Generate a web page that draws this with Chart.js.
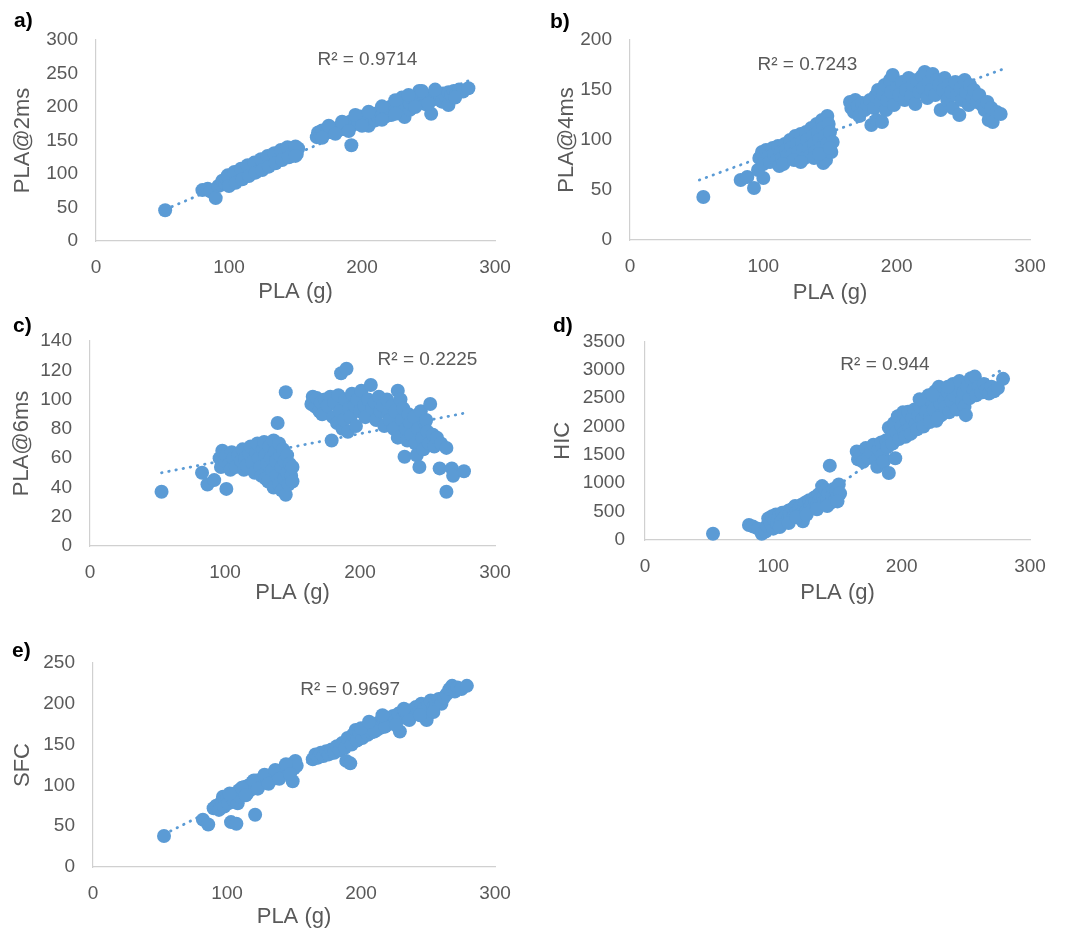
<!DOCTYPE html>
<html>
<head>
<meta charset="utf-8">
<script src="https://cdn.jsdelivr.net/npm/chart.js@4.4.0/dist/chart.umd.min.js"></script>
<style>
    body { margin: 0; background: #fff; }
    #page { position: relative; width: 1067px; height: 928px; background: #fff; }
    #page canvas { position: absolute; }
</style>
</head>
<body>
<div id="page">
    <canvas id="chartA" width="530" height="310" style="left:0px;top:0px"></canvas>
    <canvas id="chartB" width="537" height="310" style="left:530px;top:0px"></canvas>
    <canvas id="chartC" width="530" height="300" style="left:0px;top:310px"></canvas>
    <canvas id="chartD" width="537" height="300" style="left:530px;top:310px"></canvas>
    <canvas id="chartE" width="530" height="318" style="left:0px;top:610px"></canvas>
</div>
<script>
// ---- data: [PLA (g), value] ----
const pla2ms = [
    [52,46],[80,76],[84,78],[86,74],[90,64],[92,82],
    [94,84],[95,90],[97,86],[98,93],[100,88],[101,95],[103,92],[104,98],[106,94],[107,100],[109,97],[110,104],
    [112,100],[113,107],[115,103],[116,110],[118,106],[119,113],[121,109],[122,116],[124,112],[125,118],[127,115],
    [128,121],[130,117],[131,123],[133,120],[134,126],[136,122],[137,129],[139,125],[140,132],[142,128],[143,135],
    [145,130],[146,137],[147,127],[148,133],[149,139],[150,135],[151,130],[152,138],
    [99,98],[104,103],[109,108],[114,113],[119,117],[124,122],[129,127],[134,131],[139,136],[144,140],[150,141],
    [100,82],[105,87],[110,92],[115,97],[120,102],[125,106],[130,111],[135,116],[140,121],[145,125],[150,127],
    [166,155],[167,162],[169,158],[170,165],[172,160],[174,163],[176,167],[178,162],[180,168],[182,165],[184,171],
    [186,167],[188,174],[190,170],[191,178],[192,143],[193,173],[195,182],[197,177],[199,186],[200,180],[202,184],
    [204,178],[205,172],[206,186],[208,182],[210,190],[210,180],[212,185],[214,193],[215,188],[217,197],[218,186],
    [219,192],[221,200],[222,195],[222,188],[224,203],[226,198],[228,206],[229,200],[230,214],[231,208],[232,185],
    [233,203],[235,210],[236,196],[236,205],[238,212],[240,207],[242,215],[243,224],[243,210],[245,218],[247,212],
    [248,204],[249,216],[251,210],[252,190],[253,217],[255,222],[255,212],[257,219],[259,214],[260,208],[261,220],
    [263,216],[265,203],[265,222],[267,218],[269,224],[271,220],[273,226],[276,223],[280,228],
    [175,172],[185,178],[195,188],[205,193],[215,201],[225,210],[235,218],[245,224],[255,226],
    [170,154],[180,160],[190,164],[200,172],[215,181],[225,190],[240,200],[250,205],[270,214]
];
const pla4ms = [
    [55,43],[83,60],[88,63],[93,52],[100,62],
    [96,70],[97,82],[99,88],[100,76],[102,90],[104,84],[105,78],[107,92],[108,86],[110,80],[111,94],[112,74],
    [113,88],[114,82],[116,96],[117,90],[118,84],[120,100],[121,92],[122,86],[124,104],[125,96],[126,88],[128,106],
    [129,98],[130,90],[131,82],[132,108],[133,100],[134,92],[135,84],[136,112],[137,104],[138,96],[139,88],[140,116],
    [141,108],[142,100],[143,92],[144,120],[145,112],[145,77],[146,104],[147,80],[148,124],[148,96],[149,116],
    [150,108],[151,88],[152,98],[115,76],[123,80],[128,78],[138,82],[142,86],[150,92],
    [165,138],[166,132],[168,128],[169,140],[171,134],[172,124],[174,137],[176,130],[178,136],[180,140],[181,115],
    [183,132],[184,144],[185,120],[186,150],[188,138],[189,118],[190,146],[191,155],[192,130],[193,140],[195,160],
    [196,148],[197,165],[198,135],[200,152],[202,145],[204,158],[206,140],[207,150],[209,162],[211,144],[212,155],
    [214,136],[215,160],[217,148],[219,164],[220,152],[221,168],[223,142],[224,158],[226,150],[227,166],[229,145],
    [230,160],[232,155],[233,130],[235,150],[236,162],[238,140],[239,155],[241,148],[242,132],[244,158],[245,145],
    [247,125],[248,152],[249,140],[251,160],[252,148],[254,135],[255,155],[257,142],[258,150],[260,138],[262,145],
    [264,135],[266,130],[268,138],[269,120],[271,132],[272,118],[275,128],[278,126]
];
const pla6ms = [
    [53,37],[83,50],[87,42],[92,45],[101,39],
    [96,60],[97,54],[98,65],[100,58],[101,62],[103,56],[104,52],[105,64],[106,60],[108,54],[110,62],[112,58],
    [113,66],[114,52],[115,60],[116,55],[118,63],[119,68],[120,57],[122,50],[123,64],[124,70],[125,60],[126,54],
    [127,48],[128,66],[129,71],[130,62],[130,46],[131,56],[132,44],[133,68],[134,60],[135,52],[136,72],[136,40],
    [137,64],[138,48],[138,58],[139,84],[140,70],[140,42],[141,62],[142,54],[142,38],[143,66],[144,46],[144,58],
    [145,35],[145,105],[146,50],[146,62],[147,42],[148,56],[149,48],[150,54],[150,44],
    [164,97],[165,102],[167,95],[168,101],[170,92],[171,98],[172,90],[174,100],[176,96],[178,102],[179,72],[180,88],
    [181,98],[183,84],[184,103],[185,92],[186,118],[187,80],[188,86],[189,100],[190,121],[191,78],[192,94],[193,88],
    [194,104],[196,96],[197,82],[198,100],[200,92],[201,106],[203,96],[204,88],[206,100],[208,110],[209,94],[211,98],
    [212,86],[214,102],[215,92],[217,96],[218,82],[220,100],[221,90],[222,86],[224,96],[225,80],[226,92],[228,106],
    [228,74],[230,100],[231,86],[232,94],[233,61],[234,80],[235,72],[236,90],[237,84],[238,76],[240,88],[241,70],
    [242,62],[243,80],[244,54],[245,92],[246,74],[247,66],[248,84],[249,86],[250,78],[251,70],[252,97],[254,76],
    [255,68],[257,74],[259,53],[260,70],[264,67],[264,37],[268,53],[269,48],[277,51]
];
const hic = [
    [53,110],[81,265],[84,240],[88,200],[91,110],[94,150],
    [95,250],[96,380],[98,300],[99,420],[100,200],[101,350],[102,450],[103,280],[104,400],[106,320],[107,480],
    [108,380],[110,430],[111,330],[112,520],[113,460],[115,550],[116,420],[117,600],[118,500],[120,560],[121,460],
    [122,620],[123,330],[124,580],[125,660],[126,520],[128,700],[129,600],[130,640],[131,560],[132,750],[133,680],
    [134,620],[135,800],[136,700],[137,650],[138,950],[139,760],[140,680],[141,880],[142,720],[143,820],[144,1310],
    [145,660],[146,780],[147,900],[148,700],[149,860],[150,760],[151,980],[152,820],
    [105,230],[112,300],[118,400],[126,450],[134,540],[142,600],[150,680],
    [165,1560],[166,1420],[168,1500],[170,1380],[172,1620],[174,1450],[176,1550],[178,1680],[180,1400],[181,1290],
    [182,1600],[184,1720],[185,1500],[186,1380],[188,1760],[189,1640],[190,1180],[190,1980],[192,1820],[193,1700],
    [194,2060],[195,1440],[196,1900],[197,2180],[198,1780],[200,2000],[201,2250],[202,1900],[204,2100],[205,2260],
    [206,1960],[208,2150],[210,2300],[211,2050],[213,2200],[214,2350],[216,2120],[218,2400],[219,2250],[221,2550],
    [222,2150],[223,2450],[225,2300],[226,2620],[227,2100],[229,2700],[230,2400],[231,2200],[233,2500],[234,2350],
    [236,2600],[237,2250],[239,2450],[240,2750],[241,2550],[243,2300],[244,2650],[245,2800],[247,2450],[248,2600],
    [249,2350],[250,2200],[251,2700],[253,2500],[254,2850],[256,2650],[257,2880],[258,2550],[260,2700],[262,2600],
    [264,2750],[266,2650],[268,2580],[270,2700],[272,2620],[275,2680],[279,2840],
    [203,1820],[207,1870],[212,1950],[217,2000],[222,2080],[228,2150],[214,2480],[224,2560],[236,2700]
];
const sfc = [
    [53,38],[82,58],[86,52],[103,55],[107,53],[121,64],
    [90,72],[92,75],[94,70],[96,80],[97,86],[98,74],[100,84],[101,78],[103,86],[105,82],[106,90],[108,78],[109,94],
    [110,86],[112,92],[113,98],[115,90],[116,100],[118,95],[119,104],[121,98],[122,106],[124,101],[126,108],[127,103],
    [129,110],[130,105],[132,112],[134,108],[135,115],[137,110],[139,118],[140,113],[142,120],[143,116],[145,122],
    [146,118],[148,126],[149,105],[150,121],[151,130],[152,124],
    [102,90],[111,97],[120,106],[128,113],[136,119],[144,126],[114,88],[123,96],[131,102],[139,108],[147,114],
    [164,132],[166,138],[168,134],[170,140],[172,136],[174,142],[176,138],[178,144],[180,140],[182,148],[184,143],
    [186,152],[188,146],[189,130],[190,158],[192,127],[193,150],[194,162],[196,168],[197,155],[199,164],[201,158],
    [203,168],[205,162],[207,172],[208,165],[210,175],[212,168],[214,178],[215,171],[217,180],[219,174],[221,182],
    [222,176],[224,185],[226,180],[228,188],[229,166],[231,183],[233,190],[235,185],[237,192],[239,188],[241,196],
    [243,190],[245,200],[247,194],[249,180],[250,198],[252,204],[254,196],[256,202],[258,206],[260,200],[262,208],
    [264,212],[266,218],[268,222],[270,215],[272,220],[275,218],[279,222],
    [200,170],[210,166],[218,172],[226,174],[236,180],[244,186],[254,190],[206,178],[216,186],[232,194]
];

// linear trendline ends, as drawn in the figure
const trend2ms = [[52,47],[281,240]];
const trend4ms = [[52,60],[280,171]];
const trend6ms = [[53,50],[279,91]];
const trendHic = [[53,-596],[279,3020]];
const trendSfc = [[53,40],[279,226]];

const panelLetters = ["a)", "b)", "c)", "d)", "e)"];
const yTitles = ["PLA@2ms", "PLA@4ms", "PLA@6ms", "HIC", "SFC"];
const r2Labels = ["R² = 0.9714", "R² = 0.7243", "R² = 0.2225", "R² = 0.944", "R² = 0.9697"];
const yMax = [300, 200, 140, 3500, 250];
const yStep = [50, 50, 20, 500, 50];
const xTitle = "PLA (g)";
const xMax = 300;
const xStep = 100;

const BLUE = "#5B9BD5";
const GREY = "#595959";
const AXIS = "#D0D0D0";
const FONT = "'Liberation Sans', Arial, sans-serif";

// text drawn on top: panel letter and R² note
const panelText = {
    id: "panelText",
    afterDraw(chart, args, opts) {
        const ctx = chart.ctx;
        ctx.save();
        ctx.fillStyle = "#000";
        ctx.font = "bold 21px " + FONT;
        ctx.textAlign = "left";
        ctx.textBaseline = "middle";
        ctx.fillText(opts.letter, opts.letterAt[0], opts.letterAt[1]);

        ctx.fillStyle = GREY;
        ctx.font = "19px " + FONT;
        ctx.textAlign = "center";
        ctx.fillText(opts.r2,
            chart.scales.x.getPixelForValue(opts.r2At[0]),
            chart.scales.y.getPixelForValue(opts.r2At[1]));
        ctx.restore();
    }
};

function toXY(list) {
    return list.map(p => ({x: p[0], y: p[1]}));
}

function createScatter(canvasId, i, points, trend, p) {
    const canvas = document.getElementById(canvasId);
    const w = canvas.width, h = canvas.height;
    const tickFont = {family: FONT, size: 19};
    const titleFont = {family: FONT, size: 22, lineHeight: 1};

    return new Chart(canvas, {
        type: "scatter",
        data: {
            datasets: [{
                data: toXY(points),
                backgroundColor: BLUE,
                borderWidth: 0,
                pointRadius: 7,
                pointHoverRadius: 7,
                clip: false,
                order: 0
            }, {
                data: toXY(trend),
                showLine: true,
                borderColor: BLUE,
                borderWidth: 2.8,
                borderCapStyle: "round",
                borderDash: [0.5, 6.8],
                pointRadius: 0,
                order: 1
            }]
        },
        options: {
            responsive: false,
            animation: false,
            events: [],
            layout: {
                padding: {left: 0, top: p.area[1], right: w - p.area[2], bottom: 0}
            },
            plugins: {
                legend: {display: false},
                tooltip: {enabled: false},
                panelText: {
                    letter: panelLetters[i],
                    letterAt: p.letterAt,
                    r2: r2Labels[i],
                    r2At: p.r2At
                }
            },
            scales: {
                x: {
                    type: "linear",
                    min: 0,
                    max: xMax,
                    ticks: {stepSize: xStep, padding: 15, color: GREY, font: tickFont},
                    grid: {display: false, drawTicks: false},
                    border: {color: AXIS, width: 1.2},
                    title: {display: true, text: xTitle, color: GREY, font: titleFont, padding: {top: 0, bottom: p.xTitlePad}},
                    afterFit: (scale) => { scale.height = h - p.area[3]; }
                },
                y: {
                    type: "linear",
                    min: 0,
                    max: yMax[i],
                    ticks: {stepSize: yStep[i], padding: p.yTickPad, color: GREY, font: tickFont,
                            format: {useGrouping: false}},
                    grid: {display: false, drawTicks: false},
                    border: {color: AXIS, width: 1.2},
                    title: {display: true, text: yTitles[i], color: GREY, font: titleFont, padding: {top: p.yTitlePad, bottom: 0}},
                    afterFit: (scale) => { scale.width = p.area[0]; }
                }
            }
        },
        plugins: [panelText]
    });
}

// chart areas inside each canvas: [left, top, right, bottom]
createScatter("chartA", 0, pla2ms, trend2ms,
    {area: [96, 40, 495, 241], letterAt: [14, 21], r2At: [204, 270], xTitlePad: 7, yTitlePad: 12, yTickPad: 18});
createScatter("chartB", 1, pla4ms, trend4ms,
    {area: [100, 40, 500, 240], letterAt: [20, 22], r2At: [133, 175], xTitlePad: 6, yTitlePad: 26, yTickPad: 18});
createScatter("chartC", 2, pla6ms, trend6ms,
    {area: [90, 31, 495, 236], letterAt: [13, 16], r2At: [250, 127], xTitlePad: 6, yTitlePad: 11, yTickPad: 18});
createScatter("chartD", 3, hic, trendHic,
    {area: [115, 31, 500, 230], letterAt: [23, 16], r2At: [187, 3082], xTitlePad: 6, yTitlePad: 22, yTickPad: 20});
createScatter("chartE", 4, sfc, trendSfc,
    {area: [93, 53, 495, 257], letterAt: [12, 41], r2At: [192, 217], xTitlePad: 0, yTitlePad: 12, yTickPad: 18});
</script>
</body>
</html>
